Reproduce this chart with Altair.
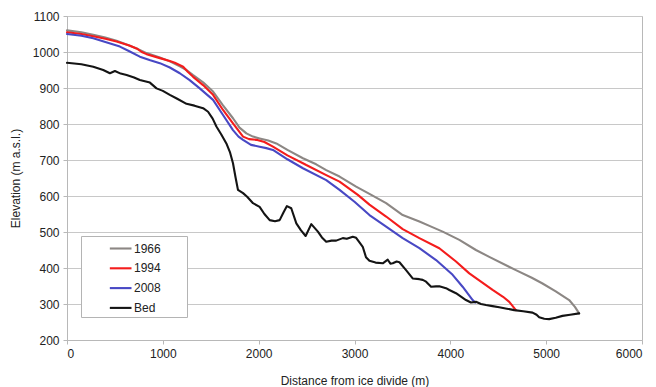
import altair as alt
import pandas as pd

series_names = ["1966", "1994", "2008", "Bed"]
series_colors = ["#8c8784", "#f41c1c", "#4848c4", "#141414"]

x_1966 = [0, 150, 274, 400, 517, 650, 726, 830, 969, 1073, 1177, 1247, 1316, 1420, 1524, 1628, 1732, 1800, 1872, 1941, 2010, 2100, 2184, 2300, 2462, 2600, 2705, 2844, 3017, 3156, 3330, 3503, 3677, 3800, 3920, 4094, 4267, 4406, 4684, 4850, 4962, 5100, 5240, 5300, 5344]
y_1966 = [1060, 1055, 1048, 1040, 1031, 1018, 1010, 997, 985, 974, 960, 950, 936, 916, 890, 852, 816, 790, 774, 765, 760, 754, 746, 728, 705, 688, 672, 654, 626, 606, 580, 547, 529, 515, 501, 478, 450, 431, 394, 373, 357, 335, 311, 292, 274]

x_1994 = [0, 150, 274, 400, 517, 650, 726, 780, 830, 969, 1073, 1125, 1212, 1260, 1316, 1420, 1524, 1628, 1732, 1837, 1900, 1976, 2060, 2149, 2300, 2462, 2497, 2705, 2844, 3035, 3156, 3330, 3503, 3677, 3885, 4059, 4198, 4441, 4550, 4615, 4684]
y_1994 = [1055, 1050, 1044, 1037, 1029, 1018, 1010, 1000, 994, 983, 975, 970, 959, 945, 931, 908, 881, 839, 802, 765, 758, 756, 750, 737, 713, 691, 686, 658, 640, 603, 576, 543, 508, 483, 455, 418, 385, 339, 320, 306, 283]

x_2008 = [0, 150, 274, 400, 552, 650, 760, 869, 969, 1073, 1177, 1280, 1385, 1524, 1628, 1732, 1790, 1837, 1920, 2010, 2080, 2149, 2300, 2462, 2705, 2844, 3000, 3156, 3330, 3503, 3677, 3851, 4024, 4128, 4233, 4260]
y_2008 = [1050, 1045, 1038, 1028, 1015, 1002, 987, 977, 969, 957, 941, 922, 899, 867, 825, 783, 765, 756, 742, 737, 733, 728, 702, 677, 644, 617, 584, 547, 515, 483, 455, 422, 381, 348, 311, 304]

x_bed = [0, 150, 274, 378, 448, 500, 560, 622, 700, 760, 865, 934, 1000, 1073, 1150, 1247, 1330, 1420, 1472, 1520, 1559, 1610, 1663, 1700, 1732, 1760, 1784, 1837, 1880, 1941, 2010, 2060, 2115, 2170, 2219, 2260, 2295, 2340, 2393, 2440, 2490, 2549, 2618, 2660, 2705, 2760, 2809, 2878, 2920, 2982, 3017, 3050, 3086, 3120, 3156, 3220, 3295, 3347, 3375, 3399, 3440, 3469, 3538, 3607, 3677, 3712, 3747, 3799, 3850, 3885, 3955, 3990, 4059, 4163, 4215, 4267, 4320, 4372, 4440, 4510, 4590, 4667, 4760, 4858, 4900, 4927, 4980, 5031, 5100, 5170, 5250, 5344]
y_bed = [970, 966, 959, 950, 941, 947, 940, 936, 929, 922, 915, 899, 892, 881, 870, 856, 851, 844, 834, 815, 793, 771, 746, 722, 691, 650, 617, 608, 598, 580, 570, 550, 533, 530, 533, 555, 572, 566, 524, 505, 489, 522, 501, 485, 473, 476, 476, 483, 481, 487, 484, 472, 459, 430, 420, 415, 413, 423, 412, 413, 418, 416, 394, 371, 369, 367, 362, 348, 349, 349, 344, 339, 330, 311, 304, 306, 300, 297, 294, 291, 287, 283, 280, 276, 270, 263, 259, 258, 262, 267, 270, 274]

x_ticks = [0, 1000, 2000, 3000, 4000, 5000, 6000]
y_ticks = [200, 300, 400, 500, 600, 700, 800, 900, 1000, 1100]

rows = []
for name, xs, ys in zip(series_names, [x_1966, x_1994, x_2008, x_bed], [y_1966, y_1994, y_2008, y_bed]):
    for i, (xv, yv) in enumerate(zip(xs, ys)):
        rows.append({"series": name, "dist": xv, "elev": yv, "idx": i})
df = pd.DataFrame(rows)

FONT = "Liberation Sans"

chart = alt.Chart(df).mark_line(strokeWidth=2.1, strokeJoin="round", strokeCap="round").encode(
    x=alt.X("dist:Q", title="Distance from ice divide (m)",
            scale=alt.Scale(domain=[0, 6000], nice=False, zero=False),
            axis=alt.Axis(values=x_ticks, grid=False, tickSize=4, labelPadding=4,
                          titlePadding=16, format="d")),
    y=alt.Y("elev:Q", title="Elevation (m a.s.l.)",
            scale=alt.Scale(domain=[200, 1100], nice=False, zero=False),
            axis=alt.Axis(values=y_ticks, grid=True, tickSize=4, labelPadding=4,
                          titlePadding=10, format="d")),
    color=alt.Color("series:N", title=None,
                    scale=alt.Scale(domain=series_names, range=series_colors),
                    legend=alt.Legend(orient="none", legendX=14, legendY=220,
                                      symbolType="M2.04,0H4.75M10.75,0", symbolSize=256,
                                      symbolStrokeWidth=2.1,
                                      labelOffset=31, padding=3, rowPadding=3.8,
                                      strokeColor="#b4b4b4", fillColor="white",
                                      labelFont=FONT, labelFontSize=12, labelColor="#222")),
    order=alt.Order("idx:Q"),
).properties(
    width=575, height=324,
    autosize=alt.AutoSizeParams(type="none"),
    padding={"left": 67, "top": 16, "right": 14, "bottom": 47},
).configure_view(
    stroke="#b8b8b8", strokeWidth=1
).configure_axis(
    labelFont=FONT, titleFont=FONT, labelFontSize=12, titleFontSize=12,
    labelColor="#222", titleColor="#222", titleFontWeight="normal",
    domainColor="#b8b8b8", tickColor="#b8b8b8", gridColor="#c8c8c8",
    gridWidth=1.2
)

chart.save("out.html", embed_options={"renderer": "svg", "actions": False})
